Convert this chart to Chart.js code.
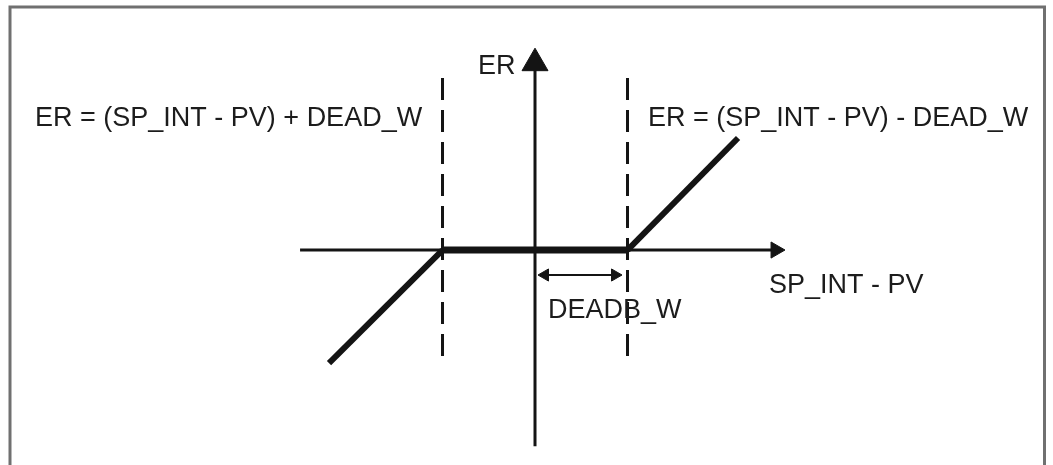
<!DOCTYPE html>
<html>
<head>
<meta charset="utf-8">
<script src="https://cdn.jsdelivr.net/npm/chart.js@4.4.1/dist/chart.umd.min.js"></script>
<style>
  html, body { margin: 0; padding: 0; background: #fff; }
  #wrap { width: 1053px; height: 465px; }
</style>
</head>
<body>
<div id="wrap"><canvas id="deadband" width="1053" height="465"></canvas></div>
<script>
// Kennlinie Totzone: ER über (SP_INT - PV), Totzone ±DEADB_W
const deadBand = [-1, 1];
const kennlinieX = [-2.227, -1, 1, 2.195];
const kennlinieY = [-1.222, 0, 0, 1.211];
const achseX = [-2.54, 2.602];   // letzter Punkt = Pfeilspitze
const achseY = [-2.12, 2.02];
const strichY = [1.86, -1.157];  // gestrichelte Grenzen
const breiteX = [0.108, 0.865];  // Doppelpfeil DEADB_W
const breiteY = -0.27;
const texte = ['ER = (SP_INT - PV) + DEAD_W', 'ER = (SP_INT - PV) - DEAD_W', 'ER', 'SP_INT - PV', 'DEADB_W'];
const textX = [-5.405, 1.222, -0.616, 2.53, 0.141];
const textY = [1.341, 1.341, 1.903, -0.465, -0.735];

const schwarz = '#141414';
const pts = (xs, ys) => xs.map((x, i) => ({ x: x, y: Array.isArray(ys) ? ys[i] : ys }));

// Rahmen + Beschriftung
const zeichnung = {
    id: 'zeichnung',
    beforeDraw(chart) {
        const c = chart.ctx;
        c.save();
        c.strokeStyle = '#707070';
        c.lineWidth = 3;
        c.beginPath();
        c.moveTo(10, 465);
        c.lineTo(10, 7);
        c.lineTo(1044.5, 7);
        c.lineTo(1044.5, 465);
        c.stroke();
        c.restore();
    },
    afterDatasetsDraw(chart) {
        const c = chart.ctx;
        const sx = chart.scales.x, sy = chart.scales.y;
        c.save();
        c.fillStyle = '#1c1c1c';
        c.font = '27px "Liberation Sans", Arial, sans-serif';
        c.textAlign = 'left';
        c.textBaseline = 'alphabetic';
        texte.forEach((t, i) => {
            c.fillText(t, sx.getPixelForValue(textX[i]), sy.getPixelForValue(textY[i]));
        });
        c.restore();
    }
};

const ctx = document.getElementById('deadband').getContext('2d');
const chart = new Chart(ctx, {
    type: 'scatter',
    data: {
        datasets: [
            {
                // Kennlinie, Totzone dicker
                data: pts(kennlinieX, kennlinieY),
                showLine: true,
                borderColor: schwarz,
                borderWidth: 6,
                pointRadius: 0,
                segment: {
                    borderWidth: c => c.p0DataIndex === 1 ? 7 : 6
                }
            },
            {
                data: pts(achseX, 0),
                showLine: true,
                borderColor: schwarz,
                borderWidth: 3,
                pointStyle: 'triangle',
                pointRadius: [0, 9.3],
                pointRotation: [0, 90],
                pointBackgroundColor: schwarz,
                pointBorderColor: schwarz,
                pointBorderWidth: 1
            },
            {
                data: pts([0, 0], achseY),
                showLine: true,
                borderColor: schwarz,
                borderWidth: 3,
                pointStyle: 'triangle',
                pointRadius: [0, 15],
                pointRotation: [0, 0],
                pointBackgroundColor: schwarz,
                pointBorderColor: schwarz,
                pointBorderWidth: 1
            },
            {
                data: pts([deadBand[0], deadBand[0]], strichY),
                showLine: true,
                borderColor: schwarz,
                borderWidth: 3,
                borderDash: [22, 10],
                pointRadius: 0
            },
            {
                data: pts([deadBand[1], deadBand[1]], strichY),
                showLine: true,
                borderColor: schwarz,
                borderWidth: 3,
                borderDash: [22, 10],
                pointRadius: 0
            },
            {
                data: pts(breiteX, breiteY),
                showLine: true,
                borderColor: schwarz,
                borderWidth: 2,
                pointStyle: 'triangle',
                pointRadius: 7,
                pointRotation: [270, 90],
                pointBackgroundColor: schwarz,
                pointBorderColor: schwarz,
                pointBorderWidth: 1
            }
        ]
    },
    options: {
        responsive: false,
        animation: false,
        devicePixelRatio: 1,
        layout: { padding: 0, autoPadding: false },
        plugins: {
            legend: { display: false },
            tooltip: { enabled: false }
        },
        scales: {
            x: { type: 'linear', min: -5.784, max: 5.6, display: false },
            y: { type: 'linear', min: -2.324, max: 2.703, display: false }
        }
    },
    plugins: [zeichnung]
});
</script>
</body>
</html>
